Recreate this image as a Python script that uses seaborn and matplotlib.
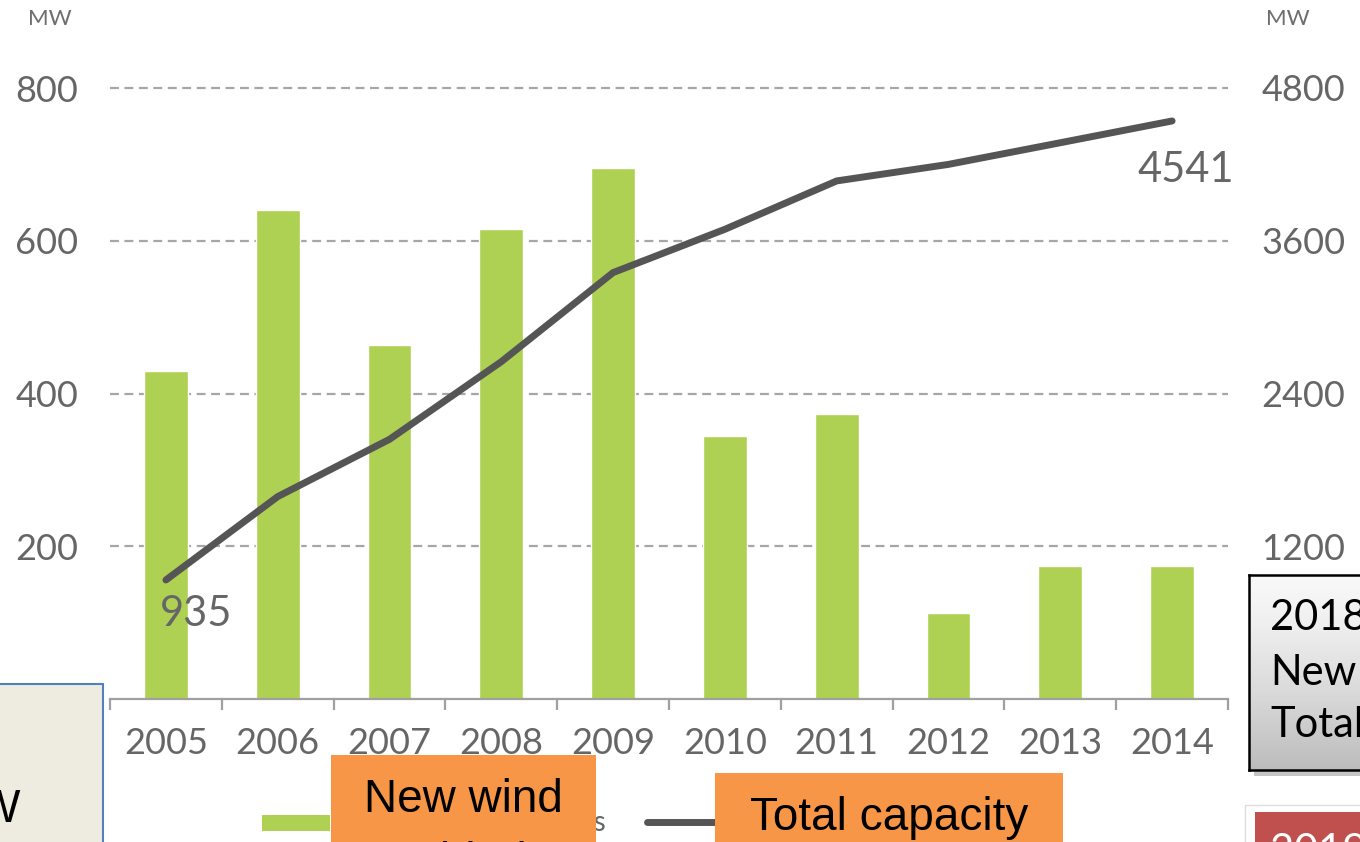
import numpy as np
import pandas as pd
import matplotlib
matplotlib.use("Agg")
import matplotlib.pyplot as plt
from matplotlib.patches import Rectangle
from matplotlib.lines import Line2D
import seaborn as sns

# ---- data ----
years = ["2005", "2006", "2007", "2008", "2009", "2010", "2011", "2012", "2013", "2014"]
new_installations = [430, 640, 463, 615, 695, 344, 373, 113, 174, 174]   # MW, left axis
total_capacity = [935, 1590, 2040, 2650, 3350, 3690, 4070, 4200, 4370, 4541]  # MW, right axis
left_ticks = [0, 200, 400, 600, 800]
right_ticks = [0, 1200, 2400, 3600, 4800]
legend_labels = ["New wind installations", "Total capacity"]
unit_label = "MW"

W, H = 1360, 842
GREEN = "#AED153"
LINE = "#555555"
TXT = "#666666"
GRID = "#A6A6A6"
ORANGE = "#F79646"

sns.set_theme(style="white")
plt.rcParams["font.family"] = ["Lato", "DejaVu Sans"]

fig = plt.figure(figsize=(W / 100, H / 100), dpi=100)


def box(x0, y0, x1, y1):
    """Figure-fraction rect [left, bottom, width, height] from pixel corners (y down)."""
    return [x0 / W, 1 - y1 / H, (x1 - x0) / W, (y1 - y0) / H]


def fx(x):
    return x / W


def fy(y):
    return 1 - y / H


df = pd.DataFrame({"year": years, "new": new_installations, "total": total_capacity})

# ---- bars (left axis) ----
ax = fig.add_axes(box(110, 88, 1228, 699))
sns.barplot(data=df, x="year", y="new", color=GREEN, width=0.39,
            saturation=1, ax=ax, zorder=2)
ax.set_xlim(-0.5, len(years) - 0.5)
ax.set_ylim(left_ticks[0], left_ticks[-1])
ax.set_yticks(left_ticks)
ax.set_xlabel("")
ax.set_ylabel("")
for t in left_ticks[1:]:
    ax.axhline(t, color=GRID, lw=1.6, ls=(0, (4, 2.5)), zorder=0.5, clip_on=False)
for s in ["top", "left", "right"]:
    ax.spines[s].set_visible(False)
ax.spines["bottom"].set_color("#A0A0A0")
ax.spines["bottom"].set_linewidth(1.6)
ax.set_xticks(np.arange(-0.5, len(years), 1), minor=True)
ax.tick_params(axis="x", which="major", length=0, pad=20, labelsize=26, labelcolor=TXT)
ax.tick_params(axis="x", which="minor", bottom=True, length=8, width=1.6,
               color="#A0A0A0", direction="out")
ax.tick_params(axis="y", length=0, pad=23, labelsize=26, labelcolor=TXT)

# ---- total capacity line (right axis) ----
ax2 = ax.twinx()
sns.lineplot(x=np.arange(len(years)), y=total_capacity, ax=ax2, color=LINE,
             lw=5, solid_capstyle="round")
ax2.set_xlim(-0.5, len(years) - 0.5)
ax2.set_ylim(right_ticks[0], right_ticks[-1])
ax2.set_yticks(right_ticks)
ax2.set_ylabel("")
for s in ["top", "left", "right", "bottom"]:
    ax2.spines[s].set_visible(False)
ax2.tick_params(axis="y", length=0, pad=24, labelsize=26, labelcolor=TXT)

ax2.annotate(f"{total_capacity[0]}", (0, total_capacity[0]), xytext=(21.5, -24.5),
             textcoords="offset points", ha="center", va="center", fontsize=30, color=TXT)
ax2.annotate(f"{total_capacity[-1]}", (len(years) - 1, total_capacity[-1]), xytext=(10, -35),
             textcoords="offset points", ha="center", va="center", fontsize=30, color=TXT)

# unit labels
fig.text(fx(50), fy(19), unit_label, ha="center", va="center", fontsize=16, color="#6E6E6E")
fig.text(fx(1288), fy(19), unit_label, ha="center", va="center", fontsize=16, color="#6E6E6E")

# ---- legend ----
fig.add_artist(Rectangle((fx(262), fy(831)), (330 - 262) / W, 16 / H,
                         transform=fig.transFigure, color=GREEN, lw=0))
fig.add_artist(Line2D([fx(647), fx(715)], [fy(822), fy(822)], transform=fig.transFigure,
                      color=LINE, lw=5, solid_capstyle="round"))
fig.text(fx(606), fy(823), legend_labels[0], ha="right", va="center", fontsize=20, color=TXT)
fig.text(fx(728), fy(823), legend_labels[1], ha="left", va="center", fontsize=20, color=TXT)

# ---- slide callouts on top of the chart ----
SANS = ["Liberation Sans", "DejaVu Sans"]


def rect(x0, y0, x1, y1, **kw):
    r = Rectangle((fx(x0), fy(y1)), (x1 - x0) / W, (y1 - y0) / H,
                  transform=fig.transFigure, **kw)
    fig.add_artist(r)
    return r


# left note box
rect(-10, 684, 103, 860, facecolor="#EEECE1", edgecolor="#4F81BD", lw=1.5, zorder=5)
fig.text(fx(21), fy(822), "MW", ha="right", va="baseline", fontsize=33,
         family=SANS, color="black", zorder=6)

# orange labels
rect(331, 755, 596, 870, facecolor=ORANGE, lw=0, zorder=5)
fig.text(fx(463), fy(812), "New wind", ha="center", va="baseline", fontsize=33,
         family=SANS, color="black", zorder=6)
fig.text(fx(463), fy(875), "added", ha="center", va="baseline", fontsize=33,
         family=SANS, color="black", zorder=6)
rect(715, 773, 1063, 870, facecolor=ORANGE, lw=0, zorder=5)
fig.text(fx(889), fy(830), "Total capacity", ha="center", va="baseline", fontsize=33,
         family=SANS, color="black", zorder=6)

# grey gradient box with shadow
rect(1254, 581, 1380, 776, facecolor="#7F7F7F", alpha=0.45, lw=0, zorder=5)
gax = fig.add_axes(box(1249, 575, 1380, 770), zorder=6)
grad = np.linspace(0, 1, 100).reshape(-1, 1)
gax.imshow(grad, aspect="auto", cmap="Greys", vmin=-0.15, vmax=2.9, extent=[0, 1, 0, 1])
gax.set_xticks([])
gax.set_yticks([])
for s in gax.spines.values():
    s.set_color("black")
    s.set_linewidth(1.8)
for txt, base in [("2018", 630), ("New", 685), ("Total", 737)]:
    fig.text(fx(1270), fy(base), txt, ha="left", va="baseline", fontsize=30,
             family=["Lato", "DejaVu Sans"], color="black", zorder=7)

# red box
rect(1245, 805, 1380, 870, facecolor="white", edgecolor="#DDDDDD", lw=1, zorder=5)
rect(1255, 812, 1380, 870, facecolor="#C0504D", lw=0, zorder=6)
fig.text(fx(1270), fy(864), "2019", ha="left", va="baseline", fontsize=30,
         family=["Lato", "DejaVu Sans"], color="white", zorder=7)

fig.savefig("out.png", dpi=100)
